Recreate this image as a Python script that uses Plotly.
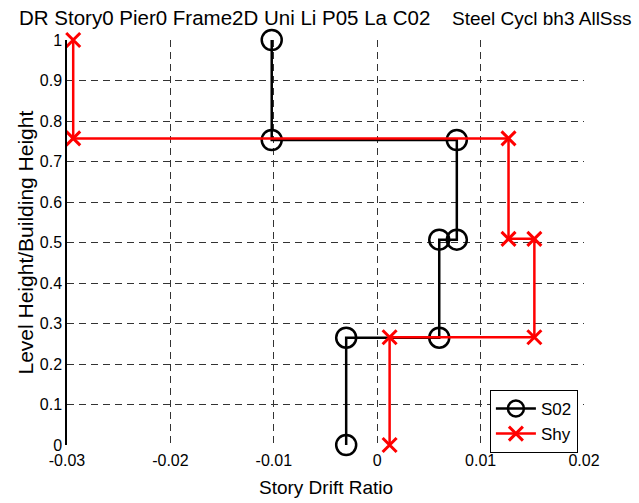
import plotly.graph_objects as go

# Data
s02_drift = [-0.0102, -0.0102, 0.0077, 0.0077, 0.0060, 0.0060, -0.0030, -0.0030]
s02_level = [1.0, 0.753, 0.753, 0.507, 0.507, 0.265, 0.265, 0.0]
shy_drift = [-0.0294, -0.0294, 0.0127, 0.0127, 0.0152, 0.0152, 0.0012, 0.0012]
shy_level = [1.0, 0.757, 0.757, 0.509, 0.509, 0.266, 0.266, 0.0]

x_ticks = [-0.03, -0.02, -0.01, 0, 0.01, 0.02]
x_tick_text = ["-0.03", "-0.02", "-0.01", "0", "0.01", "0.02"]
y_ticks = [0, 0.1, 0.2, 0.3, 0.4, 0.5, 0.6, 0.7, 0.8, 0.9, 1]
y_tick_text = ["0", "0.1", "0.2", "0.3", "0.4", "0.5", "0.6", "0.7", "0.8", "0.9", "1"]

FONT = "Liberation Sans, Arial, sans-serif"

fig = go.Figure()
fig.add_trace(go.Scatter(
    x=s02_drift, y=s02_level, name="S02", mode="lines+markers", cliponaxis=False,
    line=dict(color="black", width=2.5),
    marker=dict(symbol="circle-open", size=20, color="black", line=dict(width=2.5, color="black")),
))
fig.add_trace(go.Scatter(
    x=shy_drift, y=shy_level, name="Shy", mode="lines+markers", cliponaxis=False,
    line=dict(color="red", width=2.5),
    marker=dict(symbol="x-thin-open", size=14, color="red", line=dict(width=3, color="red")),
))

fig.update_layout(
    width=639, height=503,
    margin=dict(l=67, r=55, t=40, b=58),
    paper_bgcolor="white", plot_bgcolor="white",
    font=dict(family=FONT, size=16, color="black"),
    showlegend=True,
    legend=dict(x=0.818, y=0.136, xanchor="left", yanchor="top",
                bordercolor="black", borderwidth=1, bgcolor="white",
                font=dict(size=17), tracegroupgap=0, itemwidth=40),
    annotations=[
        dict(text="DR Story0 Pier0 Frame2D Uni Li P05 La C02", xref="paper", yref="paper",
             x=-0.0975, y=1.0, xanchor="left", yanchor="bottom", yshift=9, showarrow=False,
             font=dict(size=20.5, family=FONT)),
        dict(text="Steel Cycl bh3 AllSss", xref="paper", yref="paper",
             x=1.097, y=1.0, xanchor="right", yanchor="bottom", yshift=9, showarrow=False,
             font=dict(size=19, family=FONT)),
        dict(text="Story Drift Ratio", xref="paper", yref="paper",
             x=0.5, y=-0.106, xanchor="center", yanchor="middle", showarrow=False,
             font=dict(size=19, family=FONT)),
        dict(text="Level Height/Building Height", xref="paper", yref="paper",
             x=-0.0812, y=0.5, xanchor="center", yanchor="middle", textangle=-90,
             showarrow=False, font=dict(size=21, family=FONT)),
    ],
)
fig.update_xaxes(
    range=[-0.03, 0.02], tickvals=x_ticks, ticktext=x_tick_text,
    showgrid=True, gridcolor="#333", griddash="7px,5px", gridwidth=1,
    zeroline=False, showline=False, ticks="", ticklabelstandoff=4,
    tickfont=dict(size=16),
)
fig.update_yaxes(
    range=[0, 1], tickvals=y_ticks, ticktext=y_tick_text,
    showgrid=True, gridcolor="#333", griddash="7px,5px", gridwidth=1,
    zeroline=False, showline=True, linecolor="black", linewidth=1.5, ticks="",
    ticklabelstandoff=0,
    tickfont=dict(size=16),
)
fig.write_html("out.html")
